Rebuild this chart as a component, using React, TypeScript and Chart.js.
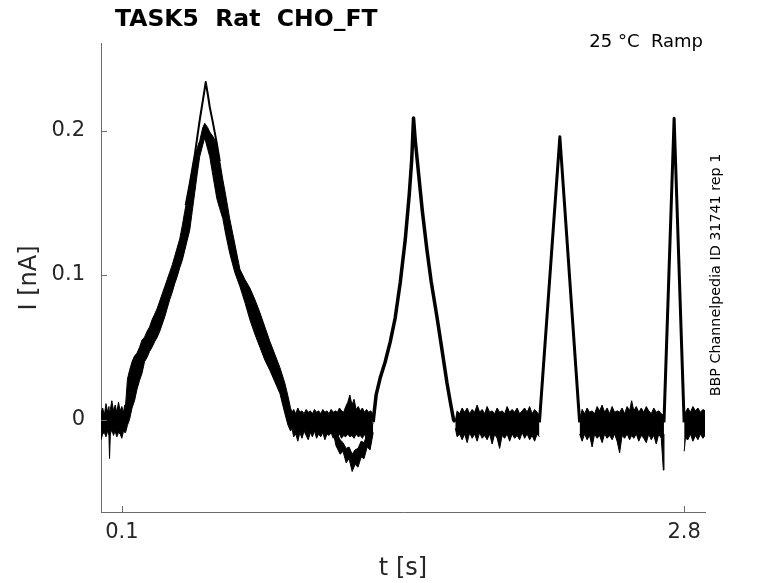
import { useEffect, useRef } from 'react';
import { Chart, registerables } from 'chart.js';

Chart.register(...registerables);

// noisy stretches: [t (s), upper edge (nA), lower edge (nA)]
const restA = [
  [0.000, 0.004, -0.014], [0.008, 0.008, -0.010], [0.016, 0.003, -0.009], [0.024, 0.011, -0.012],
  [0.032, 0.005, -0.008], [0.038, 0.009, -0.011], [0.041, 0.004, -0.027], [0.045, 0.007, -0.010],
  [0.052, 0.013, -0.007], [0.060, 0.006, -0.011], [0.068, 0.010, -0.008], [0.076, 0.005, -0.012],
  [0.084, 0.012, -0.009], [0.092, 0.006, -0.010], [0.100, 0.009, -0.013], [0.108, 0.005, -0.008],
  [0.114, 0.010, -0.009],
];
const rampA = [
  [0.118, 0.010, -0.009], [0.127, 0.028, -0.004], [0.137, 0.034, 0.000], [0.149, 0.040, 0.008],
  [0.161, 0.044, 0.013], [0.173, 0.046, 0.021], [0.185, 0.050, 0.027], [0.197, 0.055, 0.032],
  [0.209, 0.057, 0.040], [0.221, 0.061, 0.043], [0.233, 0.064, 0.047], [0.245, 0.069, 0.050],
  [0.258, 0.073, 0.054], [0.270, 0.077, 0.057], [0.282, 0.082, 0.061], [0.294, 0.087, 0.066],
  [0.306, 0.092, 0.071], [0.318, 0.097, 0.077], [0.330, 0.102, 0.083], [0.342, 0.107, 0.088],
  [0.354, 0.113, 0.094], [0.366, 0.119, 0.099], [0.378, 0.125, 0.105], [0.390, 0.134, 0.110],
  [0.402, 0.144, 0.117], [0.414, 0.153, 0.124], [0.426, 0.163, 0.131], [0.438, 0.173, 0.144],
  [0.450, 0.183, 0.157], [0.462, 0.188, 0.170], [0.474, 0.193, 0.182], [0.4885, 0.202, 0.190],
  [0.498, 0.205, 0.195], [0.5125, 0.202, 0.187], [0.522, 0.199, 0.182], [0.537, 0.196, 0.169],
  [0.556, 0.191, 0.153], [0.570, 0.179, 0.146], [0.585, 0.166, 0.139], [0.599, 0.155, 0.128],
  [0.618, 0.139, 0.115], [0.642, 0.122, 0.102], [0.667, 0.104, 0.092], [0.691, 0.097, 0.081],
  [0.715, 0.091, 0.069], [0.739, 0.083, 0.059], [0.763, 0.074, 0.050], [0.787, 0.064, 0.041],
  [0.811, 0.054, 0.034], [0.835, 0.045, 0.026], [0.859, 0.036, 0.018], [0.883, 0.025, 0.004],
  [0.898, 0.016, -0.004], [0.910, 0.008, -0.008],
];
const restB = [
  [0.917, 0.005, -0.006], [0.925, 0.007, -0.012], [0.935, 0.004, -0.010], [0.945, 0.008, -0.015],
  [0.955, 0.005, -0.009], [0.965, 0.006, -0.013], [0.975, 0.004, -0.008], [0.985, 0.007, -0.011],
  [0.995, 0.005, -0.014], [1.005, 0.006, -0.009], [1.015, 0.004, -0.012], [1.025, 0.007, -0.008],
  [1.035, 0.005, -0.013], [1.045, 0.006, -0.010], [1.055, 0.004, -0.012], [1.065, 0.007, -0.009],
  [1.075, 0.005, -0.014], [1.085, 0.006, -0.010], [1.095, 0.004, -0.011], [1.105, 0.007, -0.009],
  [1.115, 0.005, -0.013], [1.125, 0.006, -0.010], [1.135, 0.005, -0.012], [1.145, 0.008, -0.010],
  [1.155, 0.006, -0.013], [1.165, 0.005, -0.011], [1.175, 0.009, -0.012], [1.185, 0.012, -0.010],
  [1.195, 0.017, -0.012], [1.205, 0.010, -0.011], [1.215, 0.014, -0.013], [1.225, 0.007, -0.010],
  [1.235, 0.009, -0.012], [1.245, 0.006, -0.011], [1.255, 0.008, -0.013], [1.265, 0.005, -0.010],
  [1.275, 0.007, -0.014], [1.285, 0.005, -0.011], [1.295, 0.006, -0.013], [1.305, 0.004, -0.009],
];
const dipSweep = [
  [1.114, -0.002, -0.008], [1.128, -0.008, -0.018], [1.148, -0.014, -0.024], [1.162, -0.016, -0.022],
  [1.177, -0.020, -0.030], [1.191, -0.019, -0.027], [1.206, -0.024, -0.036], [1.220, -0.021, -0.031],
  [1.234, -0.020, -0.033], [1.249, -0.015, -0.026], [1.263, -0.016, -0.027], [1.278, -0.010, -0.019],
  [1.292, -0.010, -0.021], [1.307, -0.002, -0.009],
];
const restC = [
  [1.701, -0.001, -0.006], [1.710, 0.006, -0.012], [1.722, 0.004, -0.010], [1.734, 0.008, -0.014],
  [1.746, 0.005, -0.010], [1.758, 0.008, -0.016], [1.770, 0.004, -0.009], [1.782, 0.007, -0.013],
  [1.794, 0.005, -0.010], [1.806, 0.010, -0.015], [1.818, 0.005, -0.009], [1.830, 0.007, -0.013],
  [1.842, 0.004, -0.011], [1.854, 0.009, -0.014], [1.866, 0.005, -0.010], [1.878, 0.006, -0.017],
  [1.890, 0.004, -0.010], [1.902, 0.008, -0.013], [1.914, 0.005, -0.020], [1.926, 0.006, -0.011],
  [1.938, 0.004, -0.013], [1.950, 0.009, -0.010], [1.962, 0.005, -0.015], [1.974, 0.007, -0.010],
  [1.986, 0.005, -0.013], [1.998, 0.008, -0.011], [2.010, 0.004, -0.014], [2.022, 0.006, -0.009],
  [2.034, 0.008, -0.013], [2.046, 0.005, -0.010], [2.058, 0.009, -0.014], [2.070, 0.004, -0.011],
  [2.082, 0.007, -0.015], [2.094, 0.005, -0.010], [2.105, 0.003, -0.012],
];
const restD = [
  [2.298, 0.000, -0.010], [2.310, 0.007, -0.015], [2.322, 0.004, -0.010], [2.334, 0.008, -0.014],
  [2.346, 0.005, -0.011], [2.358, 0.006, -0.019], [2.370, 0.004, -0.010], [2.382, 0.009, -0.013],
  [2.394, 0.006, -0.011], [2.406, 0.010, -0.016], [2.418, 0.005, -0.010], [2.430, 0.008, -0.013],
  [2.442, 0.004, -0.011], [2.454, 0.009, -0.014], [2.466, 0.005, -0.010], [2.478, 0.006, -0.015],
  [2.490, 0.005, -0.023], [2.502, 0.008, -0.011], [2.514, 0.004, -0.013], [2.526, 0.009, -0.010],
  [2.538, 0.006, -0.014], [2.548, 0.013, -0.011], [2.558, 0.006, -0.013], [2.570, 0.009, -0.010],
  [2.582, 0.005, -0.015], [2.594, 0.008, -0.011], [2.606, 0.005, -0.013], [2.618, 0.009, -0.016],
  [2.630, 0.006, -0.010], [2.642, 0.004, -0.014], [2.654, 0.008, -0.011], [2.666, 0.005, -0.017],
  [2.678, 0.006, -0.010], [2.690, 0.004, -0.013], [2.700, 0.003, -0.035], [2.703, 0.000, -0.010],
];
const restE = [
  [2.800, 0.002, -0.022], [2.806, 0.005, -0.013], [2.818, 0.008, -0.014], [2.830, 0.005, -0.010],
  [2.842, 0.009, -0.015], [2.854, 0.006, -0.011], [2.866, 0.008, -0.014], [2.878, 0.005, -0.010],
  [2.890, 0.007, -0.013], [2.900, 0.006, -0.011],
];

// clean sweeps: [t (s), I (nA)]
const peakHigh = [
  [0.4066, 0.1484], [0.4259, 0.1630], [0.450, 0.1830], [0.474, 0.2073], [0.4933, 0.2246],
  [0.5029, 0.2336], [0.5125, 0.2253], [0.5221, 0.2163], [0.5366, 0.2060], [0.5558, 0.1913], [0.5703, 0.1789],
];
const rampB = [
  [1.3065, -0.0017], [1.3210, 0.0170], [1.3403, 0.0287], [1.3643, 0.0398], [1.3884, 0.0536],
  [1.4124, 0.0702], [1.4365, 0.0945], [1.4606, 0.1242], [1.4798, 0.1554], [1.4918, 0.1796],
  [1.5005, 0.2087], [1.5087, 0.1934], [1.5231, 0.1727], [1.5423, 0.1450], [1.5650, 0.1173],
  [1.5857, 0.0952], [1.6131, 0.0709], [1.6338, 0.0515], [1.6612, 0.0253], [1.6771, 0.0121],
  [1.6930, -0.0003], [1.7012, -0.0017],
];
const rampC = [[2.105, -0.002], [2.2031, 0.1957], [2.298, -0.002]];
const rampD = [[2.703, -0.002], [2.7517, 0.2085], [2.7998, -0.002]];

const xTicks = [0.1, 2.8];
const yTicks = [0, 0.1, 0.2];

const band = (rows: number[][]) => [
  {
    data: rows.map((r) => ({ x: r[0], y: r[1] })),
    borderColor: '#000', borderWidth: 1, pointRadius: 0, fill: false,
  },
  {
    data: rows.map((r) => ({ x: r[0], y: r[2] })),
    borderColor: '#000', borderWidth: 1, pointRadius: 0, fill: '-1', backgroundColor: '#000',
  },
];

const sweep = (rows: number[][], w: number) => ({
  data: rows.map((r) => ({ x: r[0], y: r[1] })),
  borderColor: '#000', borderWidth: w, pointRadius: 0, fill: false, borderJoinStyle: 'round',
});

const FONT = "'DejaVu Sans', sans-serif";

const decor = {
  id: 'decor',
  afterDraw(chart: any) {
    const { ctx, chartArea: a, scales } = chart;
    const x = scales.x;
    const y = scales.y;
    ctx.save();
    ctx.strokeStyle = '#6b6b6b';
    ctx.lineWidth = 1;
    ctx.beginPath();
    yTicks.forEach((v) => {
      const p = Math.round(y.getPixelForValue(v)) + 0.5;
      ctx.moveTo(a.left, p);
      ctx.lineTo(a.left + 6, p);
    });
    xTicks.forEach((v) => {
      const p = Math.round(x.getPixelForValue(v)) + 0.5;
      ctx.moveTo(p, a.bottom);
      ctx.lineTo(p, a.bottom - 6);
    });
    ctx.stroke();

    ctx.fillStyle = '#000';
    ctx.textBaseline = 'alphabetic';
    ctx.font = `bold 23.5px ${FONT}`;
    ctx.textAlign = 'left';
    ctx.fillText('TASK5  Rat  CHO_FT', 115, 26);

    ctx.font = `18px ${FONT}`;
    ctx.textAlign = 'right';
    ctx.fillText('25 °C  Ramp', 703, 47);

    ctx.fillStyle = '#262626';
    ctx.font = `24px ${FONT}`;
    ctx.textAlign = 'center';
    ctx.fillText('t [s]', 403, 575);

    ctx.save();
    ctx.translate(30, 278);
    ctx.rotate(-Math.PI / 2);
    ctx.textBaseline = 'middle';
    ctx.fillText('I [nA]', 0, 0);
    ctx.restore();

    ctx.save();
    ctx.fillStyle = '#000';
    ctx.translate(716, 275);
    ctx.rotate(-Math.PI / 2);
    ctx.font = `14.3px ${FONT}`;
    ctx.textBaseline = 'middle';
    ctx.fillText('BBP Channelpedia ID 31741 rep 1', 0, 0);
    ctx.restore();

    ctx.restore();
  },
};

export default function App() {
  const canvasRef = useRef<HTMLCanvasElement | null>(null);
  const chartRef = useRef<Chart | null>(null);

  useEffect(() => {
    const ctx = canvasRef.current?.getContext('2d');
    if (!ctx) return;

    chartRef.current = new Chart(ctx, {
      type: 'line',
      data: {
        datasets: [
          ...band([...restA, ...rampA, ...restB]),
          ...band(dipSweep),
          ...band(restC),
          ...band(restD),
          ...band(restE),
          sweep(peakHigh, 2),
          sweep(rampB, 3.5),
          sweep(rampC, 3),
          sweep(rampD, 3),
        ] as any,
      },
      options: {
        animation: false,
        responsive: false,
        events: [],
        layout: { padding: { left: 0, top: 43, right: 73, bottom: 0 } },
        plugins: { legend: { display: false }, tooltip: { enabled: false }, title: { display: false } },
        scales: {
          x: {
            type: 'linear',
            min: 0,
            max: 2.9,
            afterFit: (s: any) => { s.height = 71; },
            afterBuildTicks: (s: any) => { s.ticks = xTicks.map((v) => ({ value: v })); },
            grid: { display: false, drawTicks: false },
            border: { display: true, color: '#6b6b6b', width: 1 },
            ticks: {
              padding: 8,
              color: '#262626',
              font: { family: FONT, size: 21 },
              maxRotation: 0,
              autoSkip: false,
              callback: (v: any) => String(v),
            },
          },
          y: {
            type: 'linear',
            min: -0.064,
            max: 0.2606,
            afterFit: (s: any) => { s.width = 101; },
            afterBuildTicks: (s: any) => { s.ticks = yTicks.map((v) => ({ value: v })); },
            grid: { display: false, drawTicks: false },
            border: { display: true, color: '#6b6b6b', width: 1 },
            ticks: {
              padding: 16,
              color: '#262626',
              font: { family: FONT, size: 21 },
              autoSkip: false,
              callback: (v: any) => String(v),
            },
          },
        },
      },
      plugins: [decor],
    });

    return () => chartRef.current?.destroy();
  }, []);

  return (
    <div style={{ position: 'absolute', left: 0, top: 0, width: 778, height: 583, background: '#fff' }}>
      <canvas ref={canvasRef} width={778} height={583} style={{ width: 778, height: 583 }} />
    </div>
  );
}
